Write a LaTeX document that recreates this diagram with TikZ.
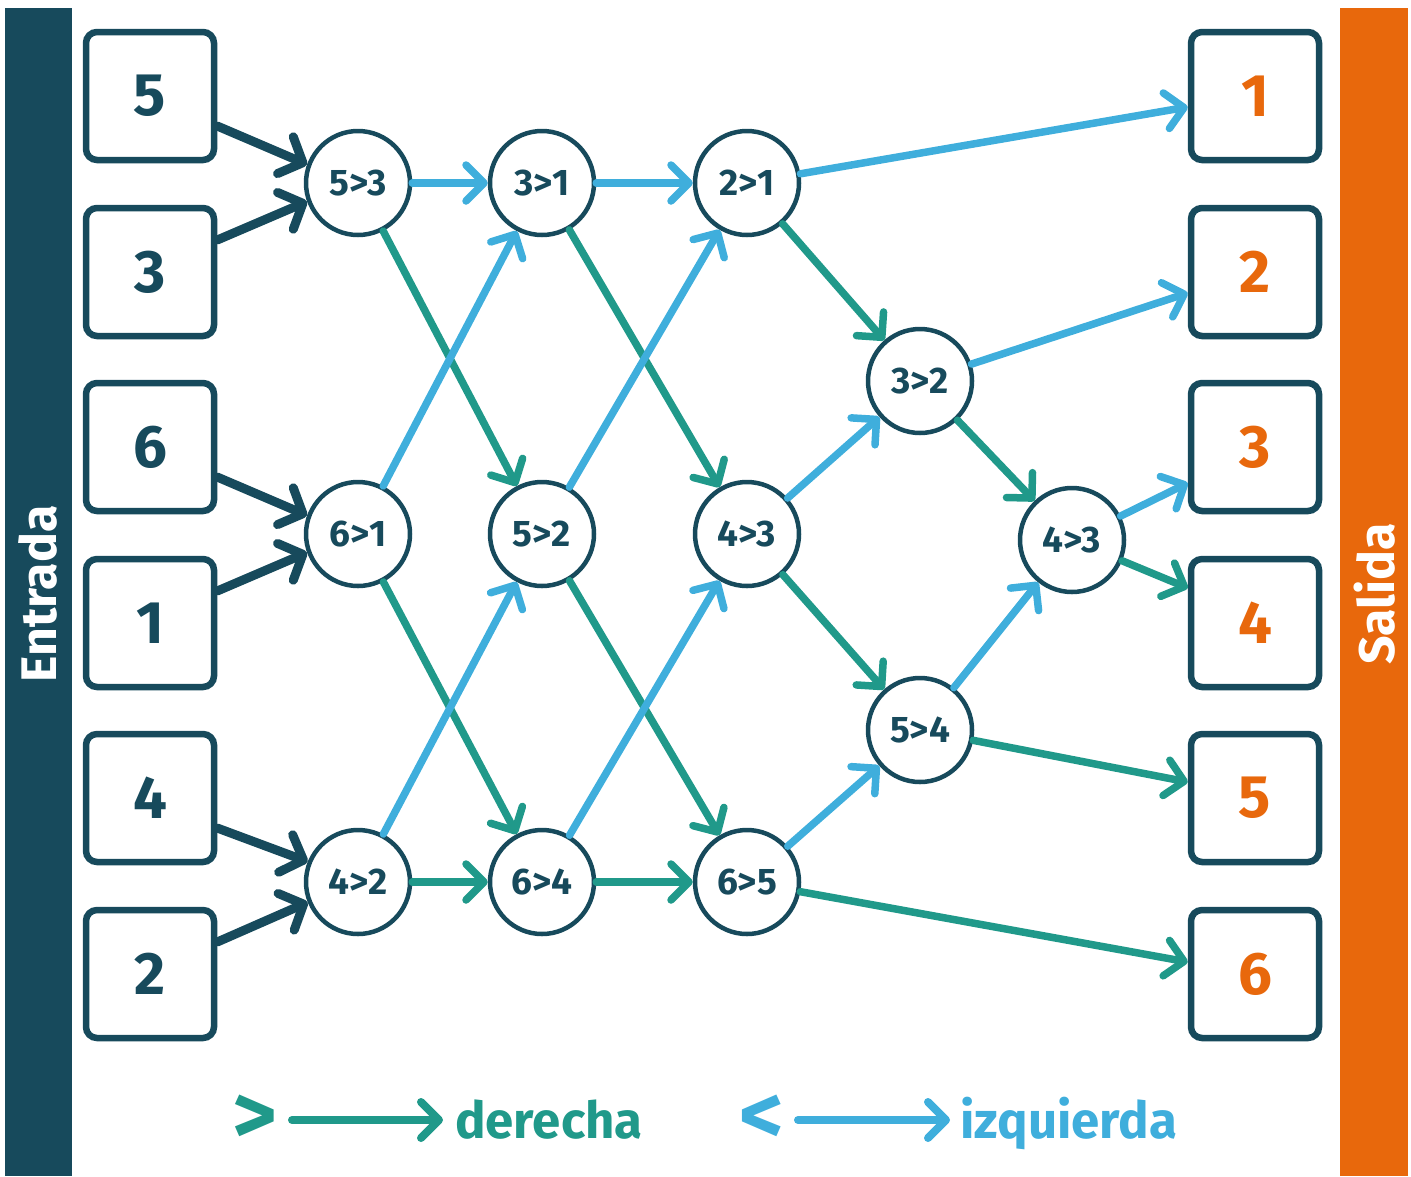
\documentclass[tikz,border=0pt]{standalone}
\usepackage{fontspec}
\setmainfont{Fira Sans}
\usetikzlibrary{arrows.meta,calc}
\definecolor{navy}{HTML}{174A5C}
\definecolor{verde}{HTML}{20998A}
\definecolor{celeste}{HTML}{3FAEDC}
\definecolor{naranja}{HTML}{E8680C}

\begin{document}
\begin{tikzpicture}[x=1pt,y=-1pt,
  box/.style={draw=navy, line width=6.5pt, rounded corners=11pt, minimum width=128pt,
    minimum height=128pt, inner sep=0pt, fill=white, font=\fontsize{60}{62}\selectfont\bfseries},
  inbox/.style={box, text=navy},
  outbox/.style={box, text=naranja},
  cmp/.style={circle, draw=navy, line width=4.5pt, minimum size=104pt, inner sep=0pt,
    fill=white, text=navy, font=\fontsize{37}{40}\selectfont\bfseries},
  barb/.style={-{Straight Barb[round, length=18pt, width=36pt]}},
  feed/.style={draw=navy, line width=9pt, line cap=round, -{Straight Barb[round, length=19pt, width=40pt]}},
  der/.style={draw=verde, line width=7.5pt, line cap=round, barb},
  izq/.style={draw=celeste, line width=7.5pt, line cap=round, barb},
  barlabel/.style={rotate=90, text=white, font=\fontsize{50}{54}\selectfont\bfseries},
  legend/.style={font=\fontsize{51}{60}\selectfont\bfseries},
  sign/.style={font=\fontsize{86}{90}\selectfont\bfseries, inner sep=0pt},
]
\useasboundingbox (0,0) rectangle (1411,1176);

% side bars
\fill[navy] (5,8) rectangle (72,1176);
\fill[naranja] (1340,8) rectangle (1408,1176);
\node[barlabel] (entrada) at (38,594) {Entrada};
\node[barlabel] (salida) at (1375,594) {Salida};

% input values
\node[inbox] (i1) at (150,96) {5};
\node[inbox] (i2) at (150,272) {3};
\node[inbox] (i3) at (150,447) {6};
\node[inbox] (i4) at (150,623) {1};
\node[inbox] (i5) at (150,798) {4};
\node[inbox] (i6) at (150,974) {2};

% sorted output
\node[outbox] (o1) at (1255,96) {1};
\node[outbox] (o2) at (1255,272) {2};
\node[outbox] (o3) at (1255,447) {3};
\node[outbox] (o4) at (1255,623) {4};
\node[outbox] (o5) at (1255,798) {5};
\node[outbox] (o6) at (1255,974) {6};

% comparators
\node[cmp] (a1) at (358,183) {5>3};
\node[cmp] (a2) at (358,534) {6>1};
\node[cmp] (a3) at (358,882) {4>2};
\node[cmp] (b1) at (542,183) {3>1};
\node[cmp] (b2) at (542,534) {5>2};
\node[cmp] (b3) at (542,882) {6>4};
\node[cmp] (c1) at (747,183) {2>1};
\node[cmp] (c2) at (747,534) {4>3};
\node[cmp] (c3) at (747,882) {6>5};
\node[cmp] (d1) at (920,381) {3>2};
\node[cmp] (d2) at (920,730) {5>4};
\node[cmp] (e1) at (1072,540) {4>3};

% inputs into the first stage
\draw[feed] ([yshift=-30pt]i1.east) -- (a1.160);
\draw[feed] ([yshift=32pt]i2.east) -- (a1.200);
\draw[feed] ([yshift=-30pt]i3.east) -- (a2.160);
\draw[feed] ([yshift=32pt]i4.east) -- (a2.200);
\draw[feed] ([yshift=-30pt]i5.east) -- (a3.158);
\draw[feed] ([yshift=32pt]i6.east) -- (a3.202);

% stage 1 -> stage 2
\draw[izq] (a1) -- (b1);
\draw[der] (a1) -- (b2);
\draw[izq] (a2) -- (b1);
\draw[der] (a2) -- (b3);
\draw[izq] (a3) -- (b2);
\draw[der] (a3) -- (b3);

% stage 2 -> stage 3
\draw[izq] (b1) -- (c1);
\draw[der] (b1) -- (c2);
\draw[izq] (b2) -- (c1);
\draw[der] (b2) -- (c3);
\draw[izq] (b3) -- (c2);
\draw[der] (b3) -- (c3);

% stage 3 -> stage 4
\draw[der] (c1) -- (d1);
\draw[izq] (c2) -- (d1);
\draw[der] (c2) -- (d2);
\draw[izq] (c3) -- (d2);

% stage 4 -> stage 5
\draw[der] (d1) -- (e1);
\draw[izq] (d2) -- (e1);

% outputs
\draw[izq] (c1) -- ([yshift=-11pt]o1.west);
\draw[izq] (d1) -- ([yshift=-21pt]o2.west);
\draw[izq] (e1) -- ([yshift=-36pt]o3.west);
\draw[der] (e1) -- ([yshift=35pt]o4.west);
\draw[der] (d2) -- ([yshift=16pt]o5.west);
\draw[der] (c3) -- ([yshift=12pt]o6.west);

% legend
\node[sign, text=verde] (gt) at (255,1120) {>};
\coordinate (ds) at (292,1120);
\coordinate (de) at (443,1120);
\draw[der, line width=8pt] (ds) -- (de);
\node[legend, text=verde, anchor=base west, inner sep=0pt] (dtext) at (455,1138) {derecha};

\node[sign, text=celeste] (lt) at (762,1120) {<};
\coordinate (is) at (798,1120);
\coordinate (ie) at (950,1120);
\draw[izq, line width=8pt] (is) -- (ie);
\node[legend, text=celeste, anchor=base west, inner sep=0pt] (itext) at (960,1138) {izquierda};
\end{tikzpicture}
\end{document}
